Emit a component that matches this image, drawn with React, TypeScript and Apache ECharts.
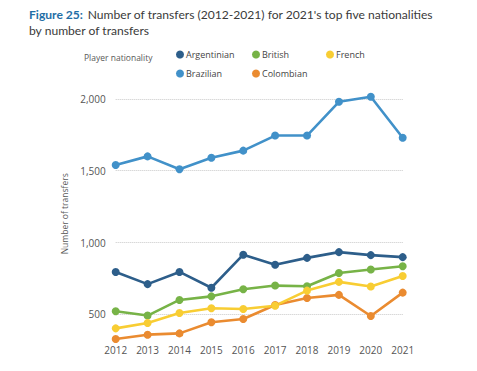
import React, { useEffect, useRef } from "react";
import * as echarts from "echarts";

const years = ["2012", "2013", "2014", "2015", "2016", "2017", "2018", "2019", "2020", "2021"];
const argentinian = [795, 710, 795, 685, 915, 845, 893, 933, 912, 898];
const brazilian = [1540, 1600, 1510, 1590, 1640, 1745, 1745, 1980, 2015, 1730];
const british = [521, 491, 600, 625, 674, 700, 695, 788, 812, 835];
const colombian = [328, 358, 367, 444, 467, 565, 614, 635, 488, 651];
const french = [402, 439, 509, 542, 537, 560, 665, 726, 693, 767];

const seriesDefs = [
  { name: "Argentinian", data: argentinian, color: "#2d5e8a" },
  { name: "Brazilian", data: brazilian, color: "#4191c9" },
  { name: "British", data: british, color: "#77b347" },
  { name: "Colombian", data: colombian, color: "#ea8b30" },
  { name: "French", data: french, color: "#f8cd33" },
];

const legendPos: Record<string, [number, number]> = {
  Argentinian: [176, 50],
  British: [252, 50],
  French: [326, 50],
  Brazilian: [176, 69],
  Colombian: [252, 69],
};

const FONT = "'Open Sans', 'Noto Sans', sans-serif";
const TITLE_FONT = "Lato, 'Open Sans', sans-serif";

export default function App() {
  const ref = useRef<HTMLDivElement>(null);
  useEffect(() => {
    document.body.style.margin = "0";
    const chart = echarts.init(ref.current!, undefined, { renderer: "svg" });
    chart.setOption({
      animation: false,
      backgroundColor: "#ffffff",
      textStyle: { fontFamily: FONT },
      title: {
        left: 29,
        top: 5,
        padding: 0,
        text:
          "{a|Figure 25:} {b|Number of transfers (2012-2021) for 2021's top five nationalities}\n{b|by number of transfers}",
        textStyle: {
          fontWeight: "normal",
          rich: {
            a: { fontFamily: TITLE_FONT, fontSize: 12.1, fontWeight: "bold", color: "#1f6ea6", lineHeight: 15 },
            b: { fontFamily: TITLE_FONT, fontSize: 12.1, fontWeight: "normal", color: "#3a3a3a", lineHeight: 15 },
          },
        },
      },
      graphic: [
        {
          type: "text",
          left: 84,
          top: 53,
          style: { text: "Player nationality", fontFamily: FONT, fontSize: 8.5, fill: "#595959" },
        },
      ],
      legend: seriesDefs.map((s) => ({
        left: legendPos[s.name][0],
        top: legendPos[s.name][1],
        data: [s.name],
        icon: "circle",
        itemWidth: 8,
        itemHeight: 8,
        padding: 0,
        textStyle: { fontFamily: FONT, fontSize: 9, color: "#444", padding: [0, 0, 0, -3] },
      })),
      grid: { left: 115.7, right: 74.3, top: 84.6, bottom: 28 },
      xAxis: {
        type: "category",
        data: years,
        boundaryGap: false,
        axisLine: { show: false },
        axisTick: { show: false },
        splitLine: { show: false },
        axisLabel: { color: "#555", fontSize: 10, margin: 2, fontFamily: FONT },
      },
      yAxis: {
        type: "value",
        min: 300,
        max: 2100,
        interval: 100,
        name: "Number of transfers",
        nameLocation: "middle",
        nameGap: 40,
        nameTextStyle: { color: "#595959", fontSize: 8.5, fontFamily: FONT },
        axisLine: { show: false },
        axisTick: { show: false },
        splitLine: {
          show: true,
          lineStyle: {
            type: "dotted",
            width: 1,
            color: ["#ffffff", "#ffffff", "#c8c8c8", "#ffffff", "#ffffff"],
          },
        },
        axisLabel: {
          color: "#555",
          fontSize: 10,
          margin: 10,
          fontFamily: FONT,
          formatter: (v: number) => (v % 500 === 0 ? v.toLocaleString("en-US") : ""),
        },
      },
      series: seriesDefs.map((s) => ({
        name: s.name,
        type: "line",
        data: s.data,
        color: s.color,
        symbol: "circle",
        symbolSize: 8,
        lineStyle: { width: 2.6, color: s.color },
        itemStyle: { color: s.color },
        z: 3,
      })),
    });
    return () => chart.dispose();
  }, []);
  return <div ref={ref} style={{ width: 477, height: 371 }} />;
}
